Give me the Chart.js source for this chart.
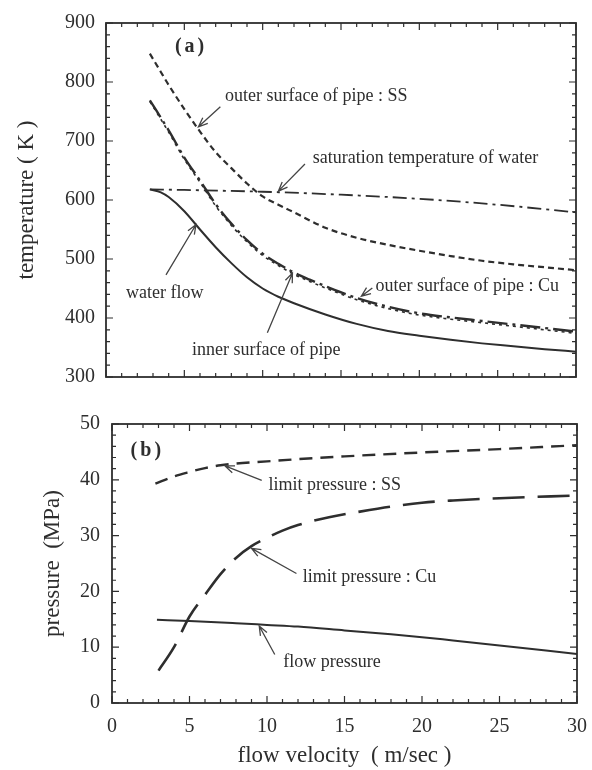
<!DOCTYPE html>
<html>
<head>
<meta charset="utf-8">
<script src="https://cdn.jsdelivr.net/npm/chart.js@4.4.1/dist/chart.umd.min.js"></script>
<style>
  body { margin: 0; background: #fff; width: 592px; height: 770px; overflow: hidden; }
  #boxA { position: absolute; left: 0; top: 0; }
  #boxB { position: absolute; left: 0; top: 400px; }
</style>
</head>
<body>
<div id="boxA"><canvas id="chartA" width="592" height="400"></canvas></div>
<div id="boxB"><canvas id="chartB" width="592" height="370"></canvas></div>
<script>
// (a) temperature vs flow velocity
const velSS = [2.8, 3.5, 4, 5, 6, 7, 8, 9, 10, 11, 12, 14, 16, 18, 20, 22, 24, 26, 28, 30];
const tempSSOuter = [848, 817, 795, 754, 716, 681, 654, 628, 606, 592, 579, 553, 536, 524, 514, 505, 497, 491, 486, 481];

const velSat = [2.8, 5, 10, 15, 20, 25, 30];
const tempSat = [618, 617, 614, 609, 602, 592, 579];

const velCu = [2.8, 4, 5, 6, 7, 8, 9, 10, 11, 12, 13, 14, 16, 18, 20, 22, 24, 26, 28, 30];
const tempCuOuter = [769, 718, 672, 633, 593, 560, 532, 509, 492, 477, 465, 454, 434, 419, 408, 401, 395, 389, 383, 377];
const tempInner = [767, 715, 669, 630, 590, 557, 529, 506, 489, 474, 462, 451, 431, 416, 405, 398, 392, 386, 380, 374];

const velWater = [2.8, 3.5, 4, 5, 6, 7, 8, 9, 10, 11, 12, 14, 16, 18, 20, 22, 24, 26, 28, 30];
const tempWater = [618, 613, 605, 581, 550, 520, 493, 469, 450, 436, 425, 406, 390, 378, 370, 363, 357, 352, 347, 343];

// (b) pressure vs flow velocity
const velLimSS = [2.8, 4, 5, 6, 7, 8, 10, 12, 15, 20, 25, 30];
const presLimSS = [39.3, 40.6, 41.4, 42.1, 42.6, 42.9, 43.3, 43.7, 44.2, 44.9, 45.5, 46.2];

const velLimCu = [3, 4, 5, 6, 7, 8, 9, 10, 11, 12, 14, 16, 18, 20, 22, 25, 30];
const presLimCu = [5.8, 10.0, 15.5, 19.4, 23.1, 26.0, 28.1, 29.6, 30.9, 31.9, 33.3, 34.3, 35.2, 35.9, 36.3, 36.7, 37.2];

const velFlow = [2.9, 5, 8, 10, 12, 15, 18, 20, 22, 25, 28, 30];
const presFlow = [14.9, 14.7, 14.3, 14.0, 13.7, 13.0, 12.3, 11.8, 11.2, 10.3, 9.4, 8.8];

const xTicks = [0, 5, 10, 15, 20, 25, 30];

const INK = '#2e2e2e';
const SERIF = '"Liberation Serif", "Times New Roman", serif';

function pts(xs, ys) {
    return xs.map((v, i) => ({ x: v, y: ys[i] }));
}

function line(xs, ys, dash, width) {
    return {
        data: pts(xs, ys),
        borderColor: INK,
        borderWidth: width,
        borderDash: dash,
        pointRadius: 0,
        fill: false,
        cubicInterpolationMode: 'monotone'
    };
}

// frame with inward ticks on all four sides
const frameTicks = {
    id: 'frameTicks',
    afterDraw(chart, args, opts) {
        const { ctx, chartArea: a, scales: { x, y } } = chart;
        ctx.save();
        ctx.strokeStyle = INK;
        ctx.lineWidth = 1.8;
        ctx.strokeRect(a.left, a.top, a.right - a.left, a.bottom - a.top);
        ctx.lineWidth = 1.2;
        ctx.beginPath();
        for (let v = x.min; v <= x.max; v += 1) {
            const px = x.getPixelForValue(v);
            const len = v % 5 === 0 ? 7 : 4;
            ctx.moveTo(px, a.bottom); ctx.lineTo(px, a.bottom - len);
            ctx.moveTo(px, a.top); ctx.lineTo(px, a.top + len);
        }
        for (let v = y.min; v <= y.max; v += opts.minor) {
            const py = y.getPixelForValue(v);
            const len = (v - y.min) % opts.major === 0 ? 7 : 4;
            ctx.moveTo(a.left, py); ctx.lineTo(a.left + len, py);
            ctx.moveTo(a.right, py); ctx.lineTo(a.right - len, py);
        }
        ctx.stroke();
        ctx.restore();
    }
};

function arrow(ctx, x1, y1, x2, y2) {
    const ang = Math.atan2(y2 - y1, x2 - x1);
    const h = 10;
    ctx.beginPath();
    ctx.moveTo(x1, y1);
    ctx.lineTo(x2, y2);
    ctx.moveTo(x2 - h * Math.cos(ang - 0.38), y2 - h * Math.sin(ang - 0.38));
    ctx.lineTo(x2, y2);
    ctx.lineTo(x2 - h * Math.cos(ang + 0.38), y2 - h * Math.sin(ang + 0.38));
    ctx.stroke();
}

// curve labels and arrows, placed in data units
const notes = {
    id: 'notes',
    afterDatasetsDraw(chart, args, opts) {
        const { ctx, scales: { x, y } } = chart;
        ctx.save();
        ctx.fillStyle = INK;
        ctx.strokeStyle = '#444';
        ctx.lineWidth = 1.3;
        ctx.textBaseline = 'middle';
        ctx.textAlign = 'left';
        (opts.items || []).forEach(n => {
            ctx.font = n.font || ('18px ' + SERIF);
            if (n.spacing) ctx.letterSpacing = n.spacing;
            ctx.fillText(n.text, x.getPixelForValue(n.at[0]), y.getPixelForValue(n.at[1]));
            ctx.letterSpacing = '0px';
            if (n.from) {
                arrow(ctx,
                    x.getPixelForValue(n.from[0]), y.getPixelForValue(n.from[1]),
                    x.getPixelForValue(n.to[0]), y.getPixelForValue(n.to[1]));
            }
        });
        ctx.restore();
    }
};

const tickFont = { family: SERIF, size: 20 };
const titleFont = { family: SERIF, size: 23 };

function noEdgePadding(s) {
    s.paddingLeft = 0;
    s.paddingRight = 0;
}

new Chart(document.getElementById('chartA'), {
    type: 'line',
    data: {
        datasets: [
            line(velSS, tempSSOuter, [6, 4], 2.2),
            line(velSat, tempSat, [14, 5, 3, 5], 1.8),
            line(velCu, tempCuOuter, [20, 5, 3, 5], 2.4),
            line(velCu, tempInner, [3, 4], 1.6),
            line(velWater, tempWater, [], 2)
        ]
    },
    options: {
        responsive: false,
        animation: false,
        layout: { padding: { top: 23, right: 16, left: 0, bottom: 0 } },
        plugins: {
            legend: { display: false },
            tooltip: { enabled: false },
            frameTicks: { minor: 20, major: 100 },
            notes: {
                items: [
                    { text: '(a)', at: [4.4, 859], font: 'bold 20px ' + SERIF, spacing: '3px' },
                    { text: 'outer surface of pipe : SS', at: [7.6, 775], from: [7.3, 758], to: [5.9, 724] },
                    { text: 'saturation temperature of water', at: [13.2, 671], from: [12.7, 661], to: [11.0, 615] },
                    { text: 'water flow', at: [1.28, 442], from: [3.83, 473], to: [5.74, 558] },
                    { text: 'inner surface of pipe', at: [5.49, 346], from: [10.3, 375], to: [11.9, 476] },
                    { text: 'outer surface of pipe : Cu', at: [17.2, 453], from: [17.0, 451], to: [16.3, 437] }
                ]
            }
        },
        scales: {
            x: {
                type: 'linear', min: 0, max: 30,
                ticks: { display: false },
                grid: { display: false, drawTicks: false },
                border: { display: false },
                afterFit: s => { s.height = 23; noEdgePadding(s); }
            },
            y: {
                min: 300, max: 900,
                ticks: { stepSize: 100, padding: 11, font: tickFont, color: INK },
                grid: { display: false, drawTicks: false },
                border: { display: false },
                title: { display: true, text: 'temperature ( K )', font: titleFont, color: INK, padding: { top: 13, bottom: 0 } },
                afterFit: s => { s.width = 106; }
            }
        }
    },
    plugins: [frameTicks, notes]
});

new Chart(document.getElementById('chartB'), {
    type: 'line',
    data: {
        datasets: [
            line(velLimSS, presLimSS, [13, 8], 2.4),
            line(velLimCu, presLimCu, [32, 13], 2.6),
            line(velFlow, presFlow, [], 2)
        ]
    },
    options: {
        responsive: false,
        animation: false,
        layout: { padding: { top: 9, right: 15, left: 0, bottom: 0 } },
        plugins: {
            legend: { display: false },
            tooltip: { enabled: false },
            frameTicks: { minor: 2, major: 10 },
            notes: {
                items: [
                    { text: '(b)', at: [1.2, 45.2], font: 'bold 20px ' + SERIF, spacing: '3px' },
                    { text: 'limit pressure : SS', at: [10.1, 39.1], from: [9.66, 39.9], to: [7.29, 42.5] },
                    { text: 'limit pressure : Cu', at: [12.3, 22.6], from: [11.9, 23.2], to: [9.0, 27.7] },
                    { text: 'flow pressure', at: [11.05, 7.3], from: [10.5, 8.7], to: [9.5, 13.8] }
                ]
            }
        },
        scales: {
            x: {
                type: 'linear', min: 0, max: 30,
                afterBuildTicks: s => { s.ticks = xTicks.map(v => ({ value: v })); },
                ticks: { padding: 12, font: tickFont, color: INK },
                grid: { display: false, drawTicks: false },
                border: { display: false },
                title: { display: true, text: 'flow velocity  ( m/sec )', font: titleFont, color: INK, padding: { top: 0, bottom: 0 } },
                afterFit: s => { s.height = 67; noEdgePadding(s); }
            },
            y: {
                min: 0, max: 50,
                ticks: { stepSize: 10, padding: 12, font: tickFont, color: INK },
                grid: { display: false, drawTicks: false },
                border: { display: false },
                title: { display: true, text: 'pressure  (MPa)', font: titleFont, color: INK, padding: { top: 39, bottom: 0 } },
                afterFit: s => { s.width = 112; }
            }
        }
    },
    plugins: [frameTicks, notes]
});
</script>
</body>
</html>
